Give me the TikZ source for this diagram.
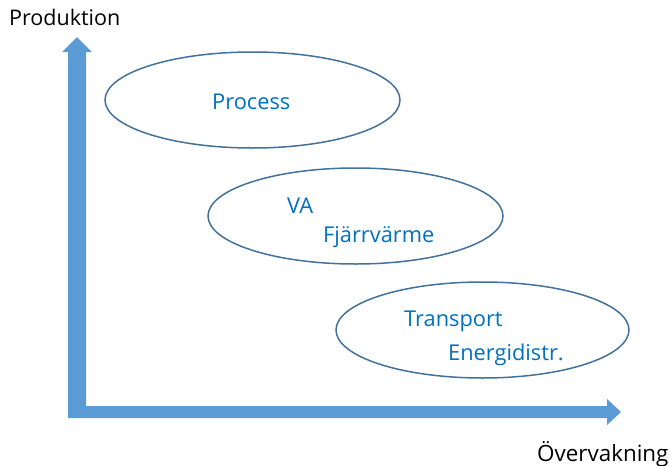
\documentclass[tikz,border=0pt]{standalone}
\usepackage{fontspec}
\setmainfont{Open Sans}
\usetikzlibrary{shapes.geometric}
\definecolor{axisblue}{HTML}{5B9BD5}
\definecolor{ringblue}{HTML}{41719C}
\definecolor{textblue}{HTML}{0070C0}
\begin{document}
\begin{tikzpicture}[x=1pt,y=-1pt,
  ring/.style={draw=ringblue,line width=1.5pt,ellipse,inner sep=0pt,minimum width=295pt,minimum height=96pt},
  area/.style={text=textblue,font=\fontsize{21.8}{25}\selectfont,anchor=base west,inner sep=0pt},
  axislabel/.style={text=black,font=\fontsize{21.5}{25}\selectfont,anchor=base west,inner sep=0pt}]
\useasboundingbox (0,0) rectangle (670,466);
% axes (L-shaped double arrow)
\fill[axisblue] (68,418) -- (68,52) -- (62,52) -- (77,37) -- (92,52) -- (86,52) -- (86,406)
  -- (607,406) -- (607,399) -- (621,412) -- (607,425) -- (607,418) -- cycle;
\node[axislabel] (ylab) at (9,25) {Produktion};
\node[axislabel,font=\fontsize{22.4}{25}\selectfont] (xlab) at (537,461) {Övervakning};
% ellipses
\node[ring] (e1) at (252.5,100) {};
\node[ring] (e2) at (355.5,216) {};
\node[ring,minimum width=293pt] (e3) at (482.5,330) {};
% texts
\node[area] (process) at (212,109) {Process};
\node[area] (va) at (287,213) {VA};
\node[area] (fjv) at (323,242) {Fjärrvärme};
\node[area] (transport) at (404,326) {Transport};
\node[area] (energi) at (448,360) {Energidistr.};
\end{tikzpicture}
\end{document}
